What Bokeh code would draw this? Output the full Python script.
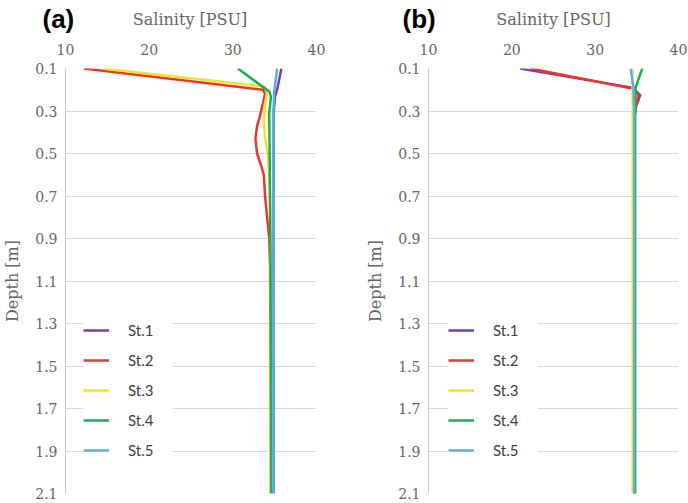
from bokeh.plotting import figure
from bokeh.models import Range1d, FixedTicker, PrintfTickFormatter, Legend, LegendItem
from bokeh.layouts import row, column
from bokeh.core.properties import value
from bokeh.embed import file_html
from bokeh.resources import INLINE

station_names = ["St.1", "St.2", "St.3", "St.4", "St.5"]
station_colors = ["#7440B0", "#E8372F", "#F2E230", "#1EAE50", "#5BAEE0"]
panel_tags = ["(a)", "(b)"]
x_title = "Salinity [PSU]"
y_title = "Depth [m]"

depth_ticks = [0.1, 0.3, 0.5, 0.7, 0.9, 1.1, 1.3, 1.5, 1.7, 1.9, 2.1]
salinity_ticks = [10, 20, 30, 40]

# ---- Panel (a) ----
a_st1_depth = [0.1, 0.15, 0.19, 0.23, 0.3, 0.5, 1.0, 1.5, 2.1]
a_st1_sal = [35.8, 35.55, 35.35, 35.05, 34.9, 34.87, 34.85, 34.85, 34.85]
a_st2_depth = [0.1, 0.2, 0.218, 0.265, 0.33, 0.37, 0.43, 0.5, 0.56, 0.6, 0.7, 0.8, 0.9, 1.03, 1.5, 2.1]
a_st2_sal = [12.2, 33.6, 33.85, 33.6, 33.2, 32.9, 32.7, 32.9, 33.4, 33.7, 33.85, 34.1, 34.35, 34.45, 34.5, 34.55]
a_st3_depth = [0.1, 0.185, 0.21, 0.265, 0.345, 0.43, 0.5, 0.7, 1.0, 1.5, 2.1]
a_st3_sal = [14.4, 33.8, 34.1, 33.85, 33.7, 33.85, 34.2, 34.45, 34.5, 34.5, 34.5]
a_st4_depth = [0.1, 0.21, 0.235, 0.31, 0.5, 1.0, 1.5, 2.1]
a_st4_sal = [30.6, 34.4, 34.55, 34.35, 34.4, 34.5, 34.55, 34.6]
a_st5_depth = [0.1, 0.21, 0.3, 0.5, 1.0, 1.5, 2.1]
a_st5_sal = [35.3, 34.95, 34.85, 34.85, 34.85, 34.82, 34.8]

# ---- Panel (b) ----
b_st1_depth = [0.1, 0.19, 0.225, 0.28, 0.32, 0.5, 1.0, 1.5, 2.1]
b_st1_sal = [21.0, 34.45, 35.4, 34.9, 34.75, 34.7, 34.7, 34.7, 34.7]
b_st2_depth = [0.1, 0.195, 0.225, 0.27, 0.32, 0.5, 1.0, 1.5, 2.1]
b_st2_sal = [22.2, 34.6, 35.2, 34.9, 34.75, 34.7, 34.7, 34.7, 34.7]
b_st3_depth = [0.1, 0.2, 0.5, 1.0, 1.5, 2.1]
b_st3_sal = [34.45, 34.5, 34.5, 34.5, 34.5, 34.5]
b_st4_depth = [0.1, 0.19, 0.3, 0.5, 1.0, 1.5, 2.1]
b_st4_sal = [35.65, 34.85, 34.8, 34.8, 34.8, 34.8, 34.8]
b_st5_depth = [0.1, 0.19, 0.3, 0.5, 1.0, 1.5, 2.1]
b_st5_sal = [34.25, 34.6, 34.68, 34.68, 34.68, 34.68, 34.68]

panel_a = [(a_st1_sal, a_st1_depth), (a_st2_sal, a_st2_depth), (a_st3_sal, a_st3_depth),
           (a_st4_sal, a_st4_depth), (a_st5_sal, a_st5_depth)]
panel_b = [(b_st1_sal, b_st1_depth), (b_st2_sal, b_st2_depth), (b_st3_sal, b_st3_depth),
           (b_st4_sal, b_st4_depth), (b_st5_sal, b_st5_depth)]

SERIF = "DejaVu Serif"
GREY = "#666666"
TOTAL_W, TOTAL_H = 688, 503
HEADER_H = 35
FRAME_TOP = 68
FRAMES = [(63, 316), (428, 678)]   # left/right pixel edges of each plot frame


def make_panel(series, width, border_left, border_right, legend_x):
    p = figure(width=width, height=TOTAL_H - HEADER_H, x_range=Range1d(10, 40),
               y_range=Range1d(2.1, 0.1), x_axis_location="above",
               output_backend="svg", toolbar_location=None,
               min_border_left=border_left, min_border_right=border_right,
               min_border_top=FRAME_TOP - HEADER_H, min_border_bottom=10)
    p.outline_line_color = None
    p.background_fill_color = "white"
    p.border_fill_color = "white"

    p.yaxis.axis_label = y_title
    p.xaxis.ticker = FixedTicker(ticks=salinity_ticks)
    p.yaxis.ticker = FixedTicker(ticks=depth_ticks)
    p.yaxis.formatter = PrintfTickFormatter(format="%.1f")
    for ax in (p.xaxis, p.yaxis):
        ax.axis_label_text_font = SERIF
        ax.axis_label_text_font_style = "normal"
        ax.axis_label_text_font_size = "16px"
        ax.axis_label_text_color = GREY
        ax.major_label_text_font = SERIF
        ax.major_label_text_font_size = "14px"
        ax.major_label_text_color = GREY
        ax.major_tick_line_color = None
        ax.minor_tick_line_color = None
        ax.major_tick_out = 0
        ax.major_tick_in = 0
        ax.minor_tick_out = 0
    p.xaxis.axis_line_color = None
    p.xaxis.major_label_standoff = 14
    p.yaxis.axis_line_color = "#C8C8C8"
    p.yaxis.major_label_standoff = 8
    p.yaxis.axis_label_standoff = 10

    p.xgrid.grid_line_color = None
    p.ygrid.ticker = FixedTicker(ticks=depth_ticks)
    p.ygrid.grid_line_color = "#D9D9D9"
    p.ygrid.grid_line_width = 1

    items = []
    for name, color, (sal, dep) in zip(station_names, station_colors, series):
        r = p.line(sal, dep, line_color=color, line_width=2.5, line_join="round")
        items.append(LegendItem(label=name, renderers=[r]))

    legend = Legend(items=items, location=(legend_x, 33), orientation="vertical",
                    background_fill_color="white", background_fill_alpha=1.0,
                    border_line_color=None, padding=9, spacing=10, margin=0,
                    glyph_width=26, glyph_height=20, label_height=20, label_width=45,
                    label_standoff=19, label_text_font="Lato", label_text_font_size="15px",
                    label_text_color="#404040")
    p.add_layout(legend)
    return p


# header strip holding the panel tags and the salinity axis titles
header = figure(width=TOTAL_W, height=HEADER_H, x_range=Range1d(0, TOTAL_W),
                y_range=Range1d(HEADER_H, 0), output_backend="svg", toolbar_location=None,
                min_border=0, x_axis_type=None, y_axis_type=None)
header.outline_line_color = None
header.xgrid.grid_line_color = None
header.ygrid.grid_line_color = None
header.text(x=[FRAMES[0][0] - 21, FRAMES[1][0] - 26], y=[33, 33], text=panel_tags,
            text_font=value("Liberation Sans"), text_font_style="bold",
            text_font_size="26px", text_color="black", text_baseline="bottom",
            text_align="left")
header.text(x=[(l + r) / 2 for l, r in FRAMES], y=[18.5, 18.5], text=[x_title, x_title],
            text_font=value(SERIF), text_font_size="16px", text_color=GREY,
            text_baseline="middle", text_align="center")

pa = make_panel(panel_a, 344, 63, 28, 18)
pb = make_panel(panel_b, 344, 84, 10, 20)

layout = column(header, row(pa, pb))
open("out.html", "w").write(file_html(layout, INLINE))
